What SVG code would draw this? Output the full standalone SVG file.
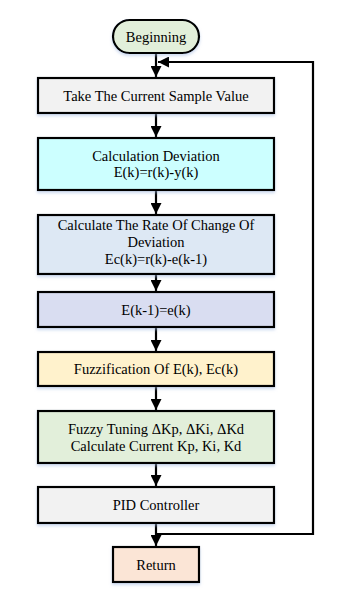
<svg xmlns="http://www.w3.org/2000/svg" width="351" height="600" viewBox="0 0 351 600">
<style>
.b{stroke:#000;stroke-width:2.2;filter:url(#sh)}
.t{font-family:"Liberation Serif","Times New Roman",serif;font-size:14.5px;fill:#000;text-anchor:middle}
.c{fill:none;stroke:#000;stroke-width:2.2}
</style>
<defs>
<filter id="sh" x="-10%" y="-20%" width="120%" height="150%">
<feDropShadow dx="0" dy="2" stdDeviation="1.5" flood-color="#9fb6e0" flood-opacity="0.5"/>
</filter>
<marker id="a" viewBox="0 0 10 10" refX="10" refY="5" markerWidth="5" markerHeight="5" orient="auto" markerUnits="strokeWidth">
<path d="M0,0 L10,5 L0,10 z" fill="#000"/>
</marker>
</defs>
<rect width="351" height="600" fill="#fff"/>
<g id="connectors">
<line class="c" x1="156" y1="53" x2="156" y2="77" marker-end="url(#a)"/>
<polyline class="c" points="156,534 313,534 313,62 158,62" marker-end="url(#a)"/>
<line class="c" x1="156" y1="113" x2="156" y2="137" marker-end="url(#a)"/>
<line class="c" x1="156" y1="190" x2="156" y2="214" marker-end="url(#a)"/>
<line class="c" x1="156" y1="274" x2="156" y2="291" marker-end="url(#a)"/>
<line class="c" x1="156" y1="327" x2="156" y2="351" marker-end="url(#a)"/>
<line class="c" x1="156" y1="386" x2="156" y2="410" marker-end="url(#a)"/>
<line class="c" x1="156" y1="463" x2="156" y2="486" marker-end="url(#a)"/>
<line class="c" x1="156" y1="523" x2="156" y2="546" marker-end="url(#a)"/>
</g>
<g id="beginning">
<rect class="b" x="113" y="20" width="86" height="33" rx="16.5" fill="#e2efda"/>
<text class="t" x="156" y="41.5">Beginning</text>
</g>
<g id="sample">
<rect class="b" x="38" y="78" width="236" height="35" fill="#f2f2f2"/>
<text class="t" x="156" y="100.5">Take The Current Sample Value</text>
</g>
<g id="deviation">
<rect class="b" x="38" y="138" width="236" height="52" fill="#ccffff"/>
<text class="t" x="156" y="160.5">Calculation Deviation</text>
<text class="t" x="156" y="177">E(k)=r(k)-y(k)</text>
</g>
<g id="rate">
<rect class="b" x="38" y="215" width="236" height="59" fill="#dde8f4"/>
<text class="t" x="156" y="229.5">Calculate The Rate Of Change Of</text>
<text class="t" x="156" y="246.5">Deviation</text>
<text class="t" x="156" y="263.5">Ec(k)=r(k)-e(k-1)</text>
</g>
<g id="update">
<rect class="b" x="38" y="292" width="236" height="35" fill="#d9ddf1"/>
<text class="t" x="156" y="314.5">E(k-1)=e(k)</text>
</g>
<g id="fuzzification">
<rect class="b" x="38" y="352" width="236" height="34" fill="#fff2cc"/>
<text class="t" x="156" y="374">Fuzzification Of E(k), Ec(k)</text>
</g>
<g id="tuning">
<rect class="b" x="38" y="411" width="236" height="52" fill="#e2efda"/>
<text class="t" x="156" y="433.5">Fuzzy Tuning ΔKp, ΔKi, ΔKd</text>
<text class="t" x="156" y="450.5">Calculate Current Kp, Ki, Kd</text>
</g>
<g id="pid">
<rect class="b" x="38" y="487" width="236" height="36" fill="#f2f2f2"/>
<text class="t" x="156" y="510">PID Controller</text>
</g>
<g id="return">
<rect class="b" x="113" y="547" width="86" height="35" fill="#fbe5d6"/>
<text class="t" x="156" y="569.5">Return</text>
</g>
</svg>
